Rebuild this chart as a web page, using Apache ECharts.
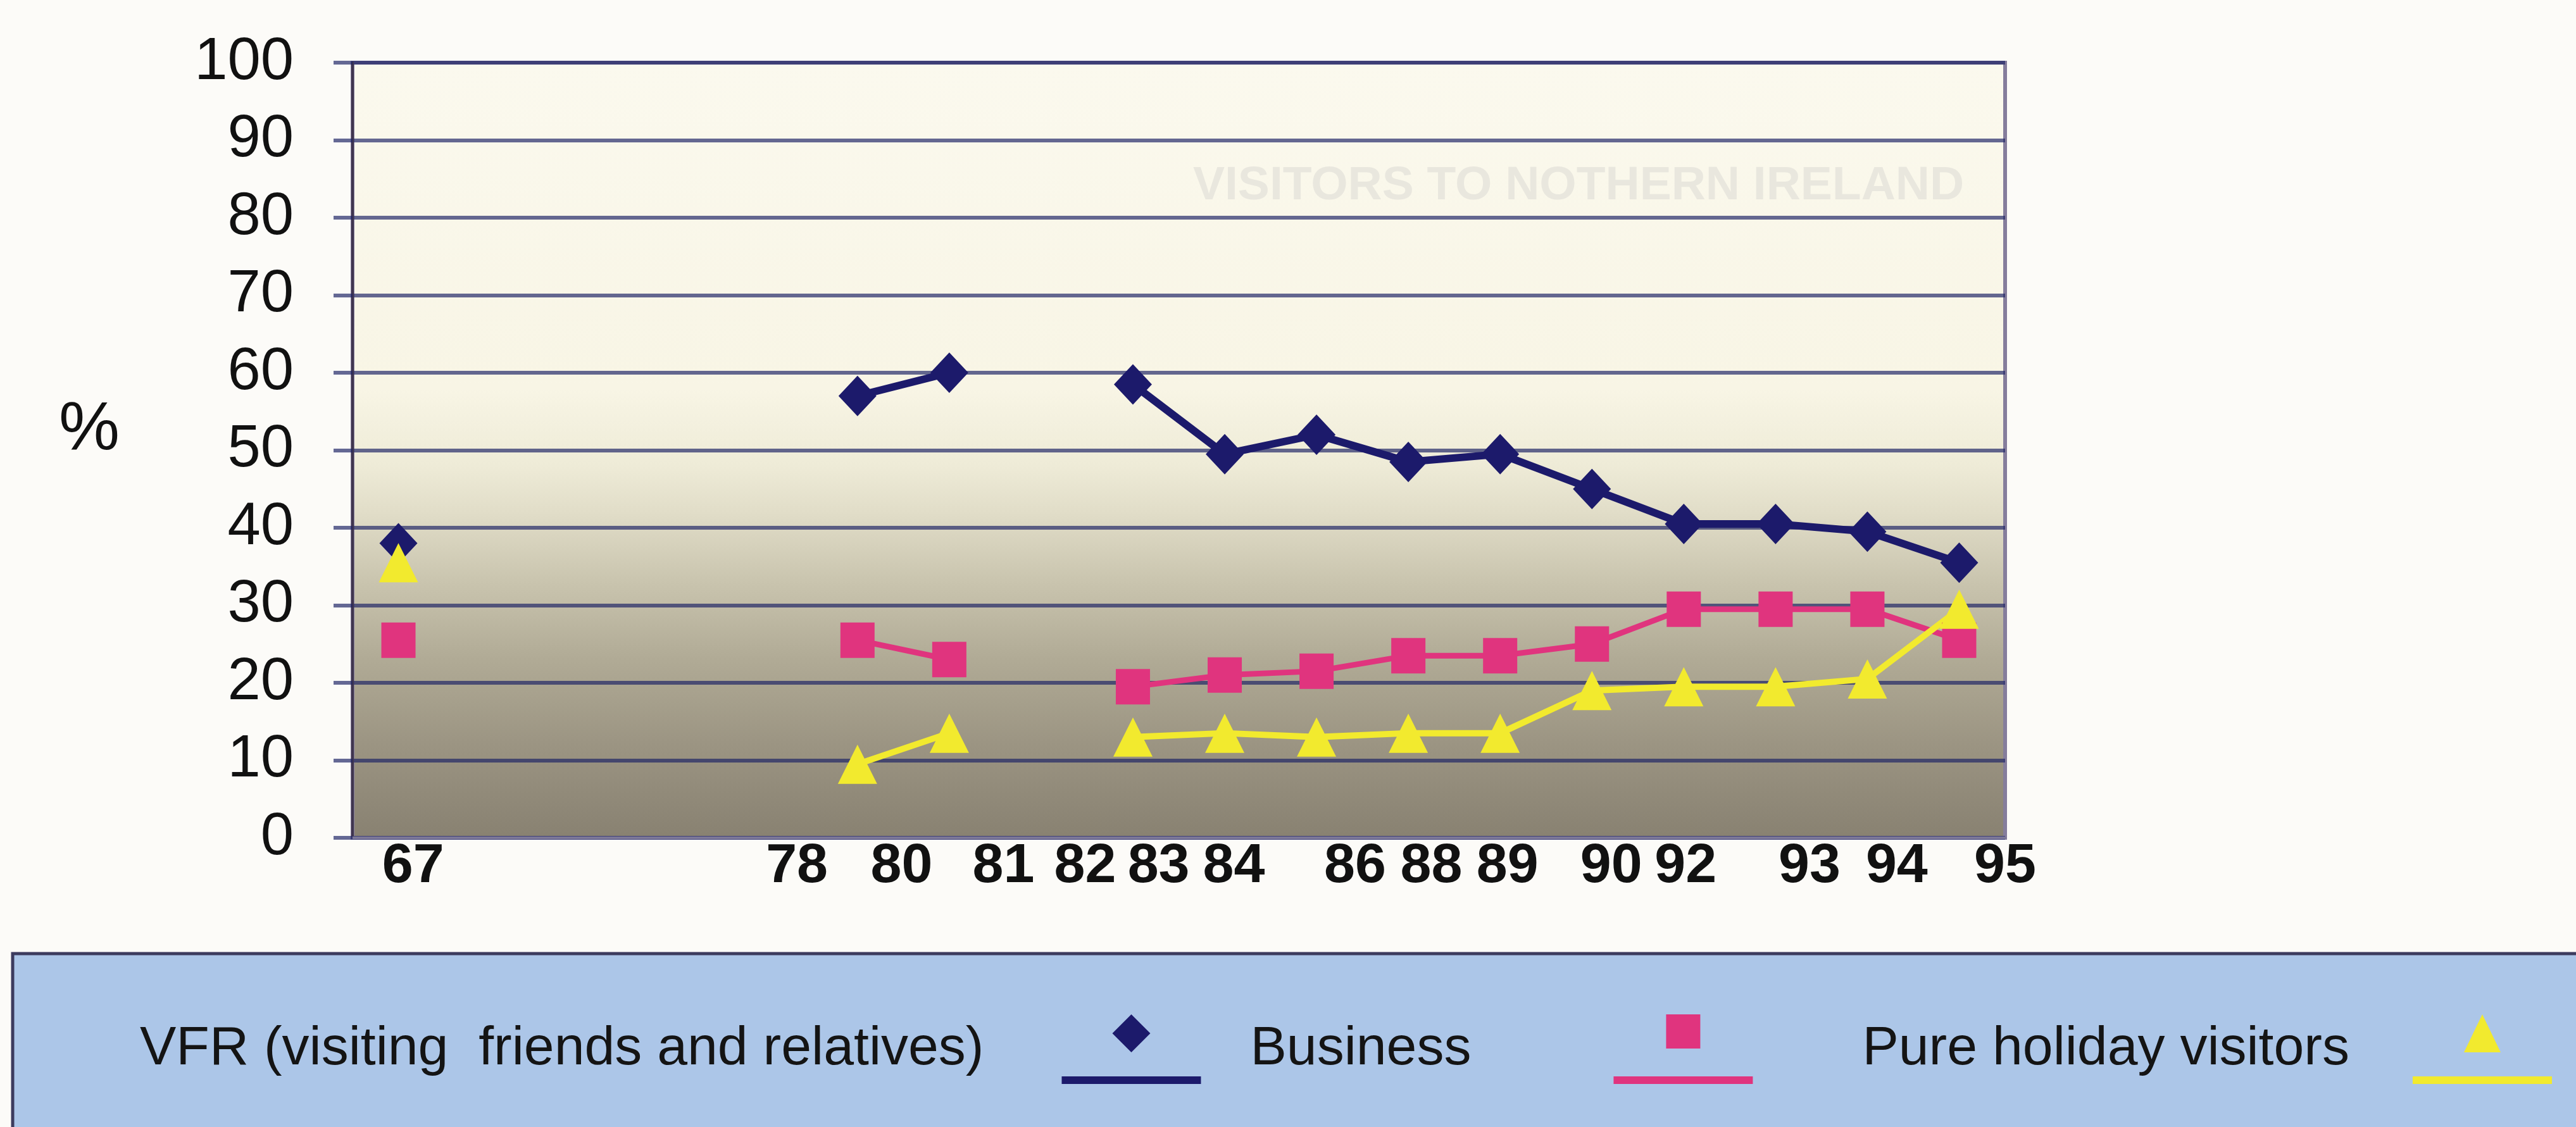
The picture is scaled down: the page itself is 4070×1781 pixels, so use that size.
<!DOCTYPE html>
<html>
<head>
<meta charset="utf-8">
<title>Visitors to Northern Ireland by purpose of visit</title>
<script src="https://cdn.jsdelivr.net/npm/echarts@6/dist/echarts.min.js"></script>
<style>
  html, body { margin: 0; padding: 0; background: #fcfbf8; }
  #chart { width: 4070px; height: 1781px; }
</style>
</head>
<body>
<div id="chart"></div>
<script>
// Survey slots along the horizontal axis; empty slots carry no data.
const slots = ['1967', '', '', '', '', '1980', '1981', '', '1983', '1984', '1986', '1988', '1989', '1990', '1992', '1993', '1994', '1995'];

// Share of visitors (%) by purpose of visit
const vfr      = [38,   null, null, null, null, 57,   60,   null, 58.5, 49.5, 52,   48.5, 49.5, 45,   40.5, 40.5, 39.5, 35.5];
const business = [25.5, null, null, null, null, 25.5, 23,   null, 19.5, 21,   21.5, 23.5, 23.5, 25,   29.5, 29.5, 29.5, 25.5];
const holiday  = [35.5, null, null, null, null, 9.5,  13.5, null, 13,   13.5, 13,   13.5, 13.5, 19,   19.5, 19.5, 20.5, 29.5];

// Year labels printed under the plot and where they sit on the slot scale
const yearLabels = ['67', '78', '80', '81', '82', '83', '84', '86', '88', '89', '90', '92', '93', '94', '95'];
const yearLabelTicks = [0.66, 4.84, 5.98, 7.09, 7.98, 8.78, 9.60, 10.92, 11.75, 12.58, 13.71, 14.52, 15.87, 16.82, 18];

const seriesNames = ['VFR (visiting  friends and relatives)', 'Business', 'Pure holiday visitors'];

const NAVY = '#1c1a6b';
const PINK = '#e0347e';
const YELLOW = '#f2ea2e';
const FONT = '"Liberation Sans", Arial, Helvetica, sans-serif';
const GRID_LINE = 'rgba(28, 34, 100, 0.68)';

// Legend keys: marker sitting above a short line stroke
const ICON_DIAMOND = 'path://M110 0L140 30L110 60L80 30ZM0 98H220V110H0Z';
const ICON_SQUARE = 'path://M83 0H137V54H83ZM0 98H220V110H0Z';
const ICON_TRIANGLE = 'path://M110 0L139 60H81ZM0 98H220V110H0Z';

const chart = echarts.init(document.getElementById('chart'), null, { renderer: 'canvas' });

chart.setOption({
  animation: false,
  backgroundColor: '#fcfbf8',
  textStyle: { fontFamily: FONT },
  title: {
    text: 'VISITORS TO NOTHERN IRELAND',
    left: 1880,
    top: 252,
    textStyle: { fontFamily: FONT, fontSize: 75, fontWeight: 'bold', color: '#e9e7de' }
  },
  grid: {
    left: 557,
    right: 902,
    top: 99,
    bottom: 457,
    show: true,
    borderColor: '#857d9c',
    borderWidth: 6,
    backgroundColor: {
      type: 'linear', x: 0, y: 0, x2: 0, y2: 1,
      colorStops: [
        { offset: 0.00, color: '#fbf9ee' },
        { offset: 0.42, color: '#f8f5e5' },
        { offset: 0.52, color: '#eeebd7' },
        { offset: 0.58, color: '#e1ddc8' },
        { offset: 0.67, color: '#c9c4ae' },
        { offset: 0.77, color: '#b0aa95' },
        { offset: 0.88, color: '#9b9482' },
        { offset: 1.00, color: '#888171' }
      ]
    }
  },
  legend: {
    left: 20,
    top: 1507,
    orient: 'horizontal',
    align: 'right',
    itemWidth: 220,
    itemHeight: 110,
    itemGap: 78,
    padding: [76, 60, 70, 201],
    backgroundColor: '#acc6e8',
    borderColor: '#3c3b5e',
    borderWidth: 5,
    selectedMode: false,
    textStyle: { fontFamily: FONT, fontSize: 86, color: '#141414', lineHeight: 100 },
    data: [
      { name: seriesNames[0], icon: ICON_DIAMOND, textStyle: { padding: [0, 118, 50, 0] } },
      { name: seriesNames[1], icon: ICON_SQUARE, textStyle: { padding: [0, 220, 50, 0] } },
      { name: seriesNames[2], icon: ICON_TRIANGLE, textStyle: { padding: [0, 95, 50, 95] } }
    ]
  },
  xAxis: [
    {
      type: 'category',
      data: slots,
      boundaryGap: true,
      position: 'bottom',
      axisLine: { show: true, lineStyle: { color: '#7c7898', width: 4 } },
      axisTick: { show: false },
      axisLabel: { show: false },
      splitLine: { show: false }
    },
    {
      type: 'value',
      min: 0,
      max: 18,
      position: 'bottom',
      axisLine: { show: false },
      axisTick: { show: false },
      splitLine: { show: false },
      axisLabel: {
        customValues: yearLabelTicks,
        margin: 2,
        fontFamily: FONT,
        fontWeight: 'bold',
        fontSize: 88,
        color: '#111111',
        formatter: function (value) {
          for (let i = 0; i < yearLabelTicks.length; i++) {
            if (Math.abs(yearLabelTicks[i] - value) < 1e-6) return yearLabels[i];
          }
          return '';
        }
      }
    }
  ],
  yAxis: {
    type: 'value',
    min: 0,
    max: 100,
    interval: 10,
    name: '%',
    nameLocation: 'middle',
    nameRotate: 0,
    nameGap: 368,
    nameTextStyle: {
      fontFamily: FONT, fontSize: 108, color: '#111111',
      verticalAlign: 'bottom', lineHeight: 62
    },
    axisLine: { show: true, lineStyle: { color: '#40364f', width: 4 } },
    axisTick: { show: true, length: 30, lineStyle: { color: GRID_LINE, width: 6 } },
    axisLabel: { margin: 93, fontFamily: FONT, fontSize: 94, color: '#111111', padding: [0, 0, 20, 0] },
    splitLine: { show: true, lineStyle: { color: GRID_LINE, width: 6 } }
  },
  series: [
    {
      name: seriesNames[0],
      type: 'line',
      xAxisIndex: 0,
      data: vfr,
      color: NAVY,
      symbol: 'diamond',
      symbolSize: [60, 64],
      showAllSymbol: true,
      connectNulls: false,
      lineStyle: { color: NAVY, width: 12 },
      itemStyle: { color: NAVY, borderWidth: 0 },
      emphasis: { disabled: true }
    },
    {
      name: seriesNames[1],
      type: 'line',
      xAxisIndex: 0,
      data: business,
      color: PINK,
      symbol: 'rect',
      symbolSize: [54, 56],
      showAllSymbol: true,
      connectNulls: false,
      lineStyle: { color: PINK, width: 9 },
      itemStyle: { color: PINK, borderWidth: 0 },
      emphasis: { disabled: true }
    },
    {
      name: seriesNames[2],
      type: 'line',
      xAxisIndex: 0,
      data: holiday,
      color: YELLOW,
      symbol: 'triangle',
      symbolSize: [62, 62],
      showAllSymbol: true,
      connectNulls: false,
      lineStyle: { color: YELLOW, width: 10 },
      itemStyle: { color: YELLOW, borderWidth: 0 },
      emphasis: { disabled: true }
    }
  ]
});
</script>
</body>
</html>
